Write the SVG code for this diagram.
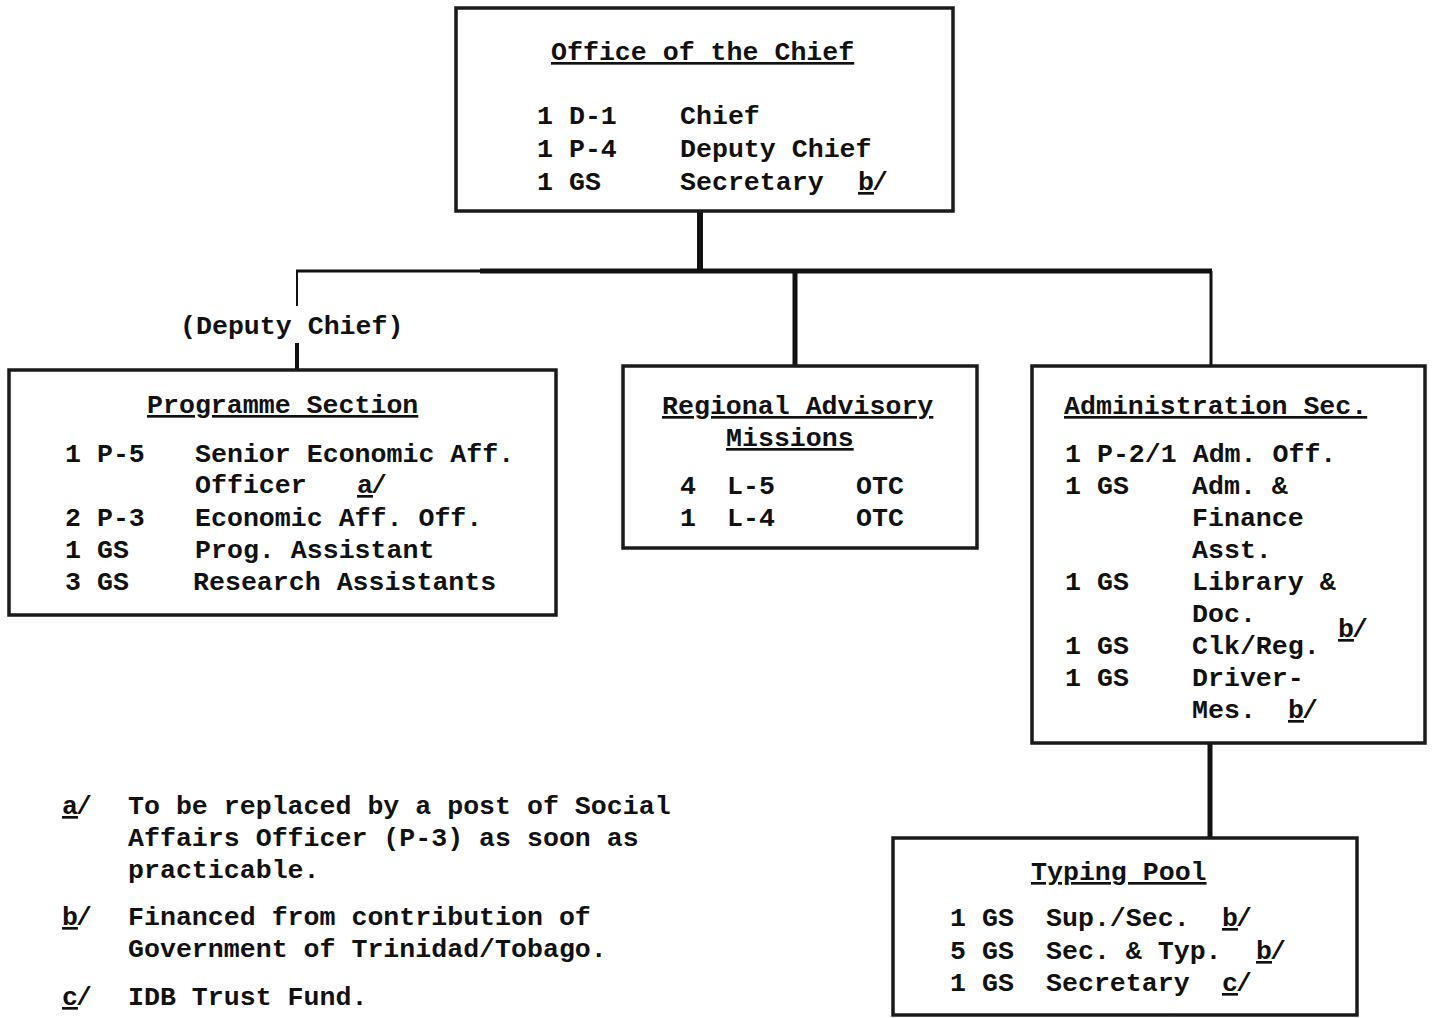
<svg xmlns="http://www.w3.org/2000/svg" width="1432" height="1018" viewBox="0 0 1432 1018">
<style>
text{font-family:"Liberation Mono","Courier New",monospace;font-size:26.6px;fill:#111;font-weight:bold}
.box{fill:#fff;stroke:#1a1a1a;stroke-width:3.5}
.u{text-decoration:underline}
.c{stroke:#111;fill:none}
</style>
<rect width="1432" height="1018" fill="#fff"/>
<g id="connectors">
<line class="c" x1="700" y1="211" x2="700" y2="272" stroke-width="6"/>
<line class="c" x1="296" y1="271" x2="480" y2="271" stroke-width="3" stroke="#555"/>
<line class="c" x1="480" y1="271" x2="1212" y2="271" stroke-width="5"/>
<line class="c" x1="297" y1="271" x2="297" y2="306" stroke-width="2" stroke="#666"/>
<line class="c" x1="297" y1="343" x2="297" y2="370" stroke-width="4"/>
<line class="c" x1="795" y1="271" x2="795" y2="366" stroke-width="5"/>
<line class="c" x1="1211" y1="271" x2="1211" y2="366" stroke-width="3"/>
<line class="c" x1="1210" y1="743" x2="1210" y2="838" stroke-width="5"/>
<text x="180" y="334">(Deputy Chief)</text>
</g>
<g id="office">
<rect class="box" x="456" y="8" width="497" height="203"/>
<text x="551" y="60" class="u">Office of the Chief</text>
<text x="537" y="124">1 D-1</text><text x="680" y="124">Chief</text>
<text x="537" y="157">1 P-4</text><text x="680" y="157">Deputy Chief</text>
<text x="537" y="190">1 GS</text><text x="680" y="190">Secretary</text>
<text x="858" y="190" class="u">b</text><text x="872" y="190">/</text>
</g>
<g id="programme">
<rect class="box" x="9" y="370" width="547" height="245"/>
<text x="147" y="413" class="u">Programme Section</text>
<text x="65" y="462">1 P-5</text><text x="195" y="462">Senior Economic Aff.</text>
<text x="195" y="493">Officer</text><text x="357" y="493" class="u">a</text><text x="371" y="493">/</text>
<text x="65" y="526">2 P-3</text><text x="195" y="526">Economic Aff. Off.</text>
<text x="65" y="558">1 GS</text><text x="195" y="558">Prog. Assistant</text>
<text x="65" y="590">3 GS</text><text x="193" y="590">Research Assistants</text>
</g>
<g id="regional">
<rect class="box" x="623" y="366" width="354" height="182"/>
<text x="662" y="414" class="u">Regional Advisory</text>
<text x="726" y="446" class="u">Missions</text>
<text x="680" y="494">4</text><text x="727" y="494">L-5</text><text x="856" y="494">OTC</text>
<text x="680" y="526">1</text><text x="727" y="526">L-4</text><text x="856" y="526">OTC</text>
</g>
<g id="administration">
<rect class="box" x="1032" y="366" width="393" height="377"/>
<text x="1064" y="414" class="u">Administration Sec.</text>
<text x="1065" y="462">1 P-2/1 Adm. Off.</text>
<text x="1065" y="494">1 GS</text><text x="1192" y="494">Adm. &amp;</text>
<text x="1192" y="526">Finance</text>
<text x="1192" y="558">Asst.</text>
<text x="1065" y="590">1 GS</text><text x="1192" y="590">Library &amp;</text>
<text x="1192" y="622">Doc.</text>
<text x="1065" y="654">1 GS</text><text x="1192" y="654">Clk/Reg.</text>
<text x="1338" y="637" class="u">b</text><text x="1352" y="637">/</text>
<text x="1065" y="686">1 GS</text><text x="1192" y="686">Driver-</text>
<text x="1192" y="718">Mes.</text><text x="1288" y="718" class="u">b</text><text x="1302" y="718">/</text>
</g>
<g id="typing">
<rect class="box" x="893" y="838" width="464" height="177"/>
<text x="1031" y="880" class="u">Typing Pool</text>
<text x="950" y="926">1 GS</text><text x="1046" y="926">Sup./Sec.</text><text x="1222" y="926" class="u">b</text><text x="1236" y="926">/</text>
<text x="950" y="959">5 GS</text><text x="1046" y="959">Sec. &amp; Typ.</text><text x="1256" y="959" class="u">b</text><text x="1270" y="959">/</text>
<text x="950" y="991">1 GS</text><text x="1046" y="991">Secretary</text><text x="1222" y="991" class="u">c</text><text x="1236" y="991">/</text>
</g>
<g id="footnotes">
<text x="62" y="814" class="u">a</text><text x="76" y="814">/</text>
<text x="128" y="814">To be replaced by a post of Social</text>
<text x="128" y="846">Affairs Officer (P-3) as soon as</text>
<text x="128" y="878">practicable.</text>
<text x="62" y="925" class="u">b</text><text x="76" y="925">/</text>
<text x="128" y="925">Financed from contribution of</text>
<text x="128" y="957">Government of Trinidad/Tobago.</text>
<text x="62" y="1005" class="u">c</text><text x="76" y="1005">/</text>
<text x="128" y="1005">IDB Trust Fund.</text>
</g>
</svg>
